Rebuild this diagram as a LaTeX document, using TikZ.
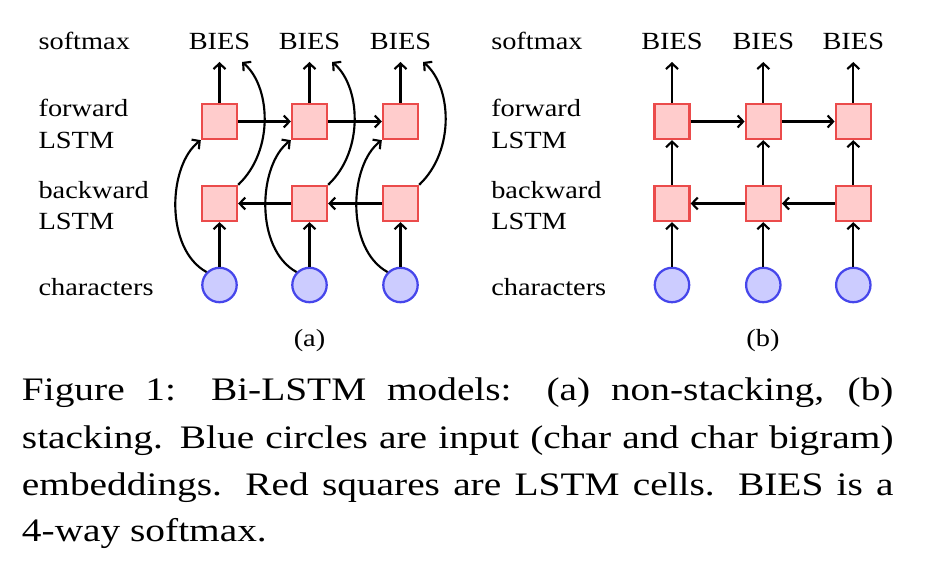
\documentclass[tikz,border=0pt]{standalone}
\usepackage{fontspec}
\setmainfont{Liberation Serif}
\newfontfamily\diagfont[FakeStretch=1.15]{Liberation Serif}
\newfontfamily\capfont[FakeStretch=1.2]{Liberation Serif}
\usetikzlibrary{arrows.meta}
\definecolor{cellfill}{RGB}{255,204,204}
\definecolor{celldraw}{RGB}{235,75,75}
\definecolor{embfill}{RGB}{204,204,255}
\definecolor{embdraw}{RGB}{70,70,235}
\begin{document}
\begin{tikzpicture}[x=0.75pt,y=-0.75pt,
  cell/.style={draw=celldraw, fill=cellfill, line width=1.7pt, minimum size=26.3pt, inner sep=0pt},
  emb/.style={circle, draw=embdraw, fill=embfill, line width=1.7pt, minimum size=25.8pt, inner sep=0pt},
  lab/.style={font=\diagfont\fontsize{18.5}{22}\selectfont, anchor=base west, inner sep=0pt},
  outlab/.style={font=\diagfont\fontsize{18.5}{22}\selectfont, anchor=base, inner sep=0pt},
  caplab/.style={font=\capfont\fontsize{24.6}{30}\selectfont, anchor=base west, inner sep=0pt},
  conn/.style={-{Straight Barb[length=4.2pt,width=9pt,line width=1.6pt]}, line width=1.6pt}]
\fill[white] (0,0) rectangle (925,570);
\useasboundingbox (0,0) rectangle (925,570);
% row labels
\foreach \p/\lx in {a/38.3,b/491} {
  \node[lab] (\p sm) at (\lx,50) {softmax};
  \node[lab] (\p fw) at (\lx,116.5) {forward};
  \node[lab] (\p fl) at (\lx,149) {LSTM};
  \node[lab] (\p bw) at (\lx,198.2) {backward};
  \node[lab] (\p bl) at (\lx,229.5) {LSTM};
  \node[lab] (\p ch) at (\lx,295.5) {characters};
}
% (a) non-stacking
\foreach \i/\x in {1/219.5,2/309.5,3/400.5} {
  \node[cell] (af\i) at (\x,121.5) {};
  \node[cell] (ab\i) at (\x,203.5) {};
  \node[emb] (ac\i) at (\x,285) {};
  \node[outlab] (ao\i) at (\x,49.5) {BIES};
  \coordinate (at\i) at (\x,62);
  \coordinate (ar\i) at (\x+22.5,62);
  \draw[conn] (ac\i) -- (ab\i);
  \draw[conn] (af\i) -- (at\i);
  \draw[conn] (ab\i.north east) .. controls +(37,-35) and +(28,23) .. (ar\i);
  \draw[conn] (ac\i.135) .. controls +(-42,-23) and +(-33,25) .. (af\i.south west);
}
\draw[conn] (af1) -- (af2);
\draw[conn] (af2) -- (af3);
\draw[conn] (ab3) -- (ab2);
\draw[conn] (ab2) -- (ab1);
\node[outlab] (alab) at (309.5,346.5) {(a)};
% (b) stacking
\foreach \i/\x in {1/672,2/763.3,3/853.3} {
  \node[cell] (bf\i) at (\x,121.5) {};
  \node[cell] (bb\i) at (\x,203.5) {};
  \node[emb] (bc\i) at (\x,285) {};
  \node[outlab] (bo\i) at (\x,49.5) {BIES};
  \coordinate (bt\i) at (\x,62);
  \draw[conn] (bc\i) -- (bb\i);
  \draw[conn] (bb\i) -- (bf\i);
  \draw[conn] (bf\i) -- (bt\i);
}
\draw[conn] (bf1) -- (bf2);
\draw[conn] (bf2) -- (bf3);
\draw[conn] (bb3) -- (bb2);
\draw[conn] (bb2) -- (bb1);
\node[outlab] (blab) at (763,346.5) {(b)};
% caption
\node[caplab] (cap1) at (21.7,400) {\hbox to 653.7pt{Figure 1: Bi-LSTM models: (a) non-stacking, (b)}};
\node[caplab] (cap2) at (21.7,448.3) {\hbox to 653.7pt{stacking. Blue circles are input (char and char bigram)}};
\node[caplab] (cap3) at (21.7,495) {\hbox to 653.7pt{embeddings. Red squares are LSTM cells. BIES is a}};
\node[caplab] (cap4) at (21.7,541.7) {4-way softmax.};
\end{tikzpicture}
\end{document}
